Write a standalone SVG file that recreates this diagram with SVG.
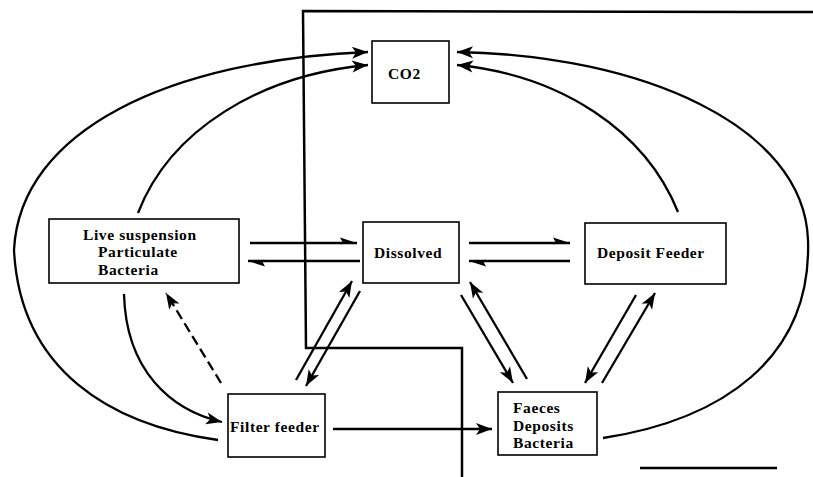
<svg xmlns="http://www.w3.org/2000/svg" width="813" height="477" viewBox="0 0 813 477">
<style>
.box{fill:#fff;stroke:#000;stroke-width:1.6}
.lbl{font-family:"Liberation Serif","Times New Roman",serif;font-weight:bold;font-size:15.5px;letter-spacing:0.6px;fill:#000}
.c{fill:none;stroke:#000;stroke-width:2.3}
.frame{fill:none;stroke:#000;stroke-width:2.5}
</style>
<defs>
<marker id="ah" markerUnits="userSpaceOnUse" viewBox="-17 -8 18 16" markerWidth="18" markerHeight="16" refX="0" refY="0" orient="auto">
<path d="M0,0 L-16,-6 L-12,0 L-16,6 Z" fill="#000"/>
</marker>
<marker id="hp" markerUnits="userSpaceOnUse" viewBox="-17 -8 18 16" markerWidth="18" markerHeight="16" refX="0" refY="0" orient="auto">
<path d="M0,0 L-17,-5.5 L-14,0 L-17,1.2 Z" fill="#000"/>
</marker>
</defs>
<rect width="813" height="477" fill="#fff"/>
<g id="frame">
<path class="frame" d="M813,12 L303,11 L306,348 L462,348 L462,477"/>
<path class="frame" d="M640,468 L777,468" stroke-width="2"/>
</g>
<g id="connectors">
<path class="c" marker-end="url(#ah)" d="M218,440 C110,425 20,370 14,250 C20,130 170,60 368,52"/>
<path class="c" marker-end="url(#ah)" d="M138,213 C170,130 260,75 368,65"/>
<path class="c" marker-end="url(#ah)" d="M603,438 C720,420 812,360 808,240 C804,125 640,55 457,52"/>
<path class="c" marker-end="url(#ah)" d="M678,212 C645,130 560,75 457,65"/>
<path class="c" marker-end="url(#hp)" d="M250,243 L357,243"/>
<path class="c" marker-end="url(#hp)" d="M360,261 L248,261"/>
<path class="c" marker-end="url(#hp)" d="M469,243 L570,243"/>
<path class="c" marker-end="url(#hp)" d="M570,261 L469,261"/>
<path class="c" marker-end="url(#ah)" d="M296,380 L352,281"/>
<path class="c" marker-end="url(#ah)" d="M360,291 L306,386"/>
<path class="c" marker-end="url(#ah)" d="M461,295 L513,383"/>
<path class="c" marker-end="url(#ah)" d="M527,379 L470,282"/>
<path class="c" marker-end="url(#ah)" d="M636,295 L585,383"/>
<path class="c" marker-end="url(#ah)" d="M602,383 L655,293"/>
<path class="c" marker-end="url(#ah)" d="M333,429 L492,429"/>
<path class="c" marker-end="url(#ah)" d="M124,294 C126,370 170,410 222,422"/>
<path class="c" marker-end="url(#ah)" stroke-width="3" stroke-dasharray="10,5" d="M221,383 L166,293"/>
</g>
<g id="co2">
<rect class="box" x="372" y="41" width="77" height="62"/>
<text class="lbl" x="388" y="79">CO2</text>
</g>
<g id="live">
<rect class="box" x="49" y="219" width="190" height="64"/>
<text class="lbl" x="83" y="239.5">Live suspension</text>
<text class="lbl" x="98" y="257">Particulate</text>
<text class="lbl" x="98" y="274.5">Bacteria</text>
</g>
<g id="dissolved">
<rect class="box" x="363" y="222" width="96" height="61"/>
<text class="lbl" x="374" y="258">Dissolved</text>
</g>
<g id="deposit">
<rect class="box" x="585" y="223" width="141" height="61"/>
<text class="lbl" x="597" y="258">Deposit Feeder</text>
</g>
<g id="filter">
<rect class="box" x="228" y="394" width="97" height="63"/>
<text class="lbl" x="230" y="432">Filter feeder</text>
</g>
<g id="faeces">
<rect class="box" x="498" y="392" width="99" height="63"/>
<text class="lbl" x="513" y="413">Faeces</text>
<text class="lbl" x="513" y="430.5">Deposits</text>
<text class="lbl" x="513" y="448">Bacteria</text>
</g>
</svg>
